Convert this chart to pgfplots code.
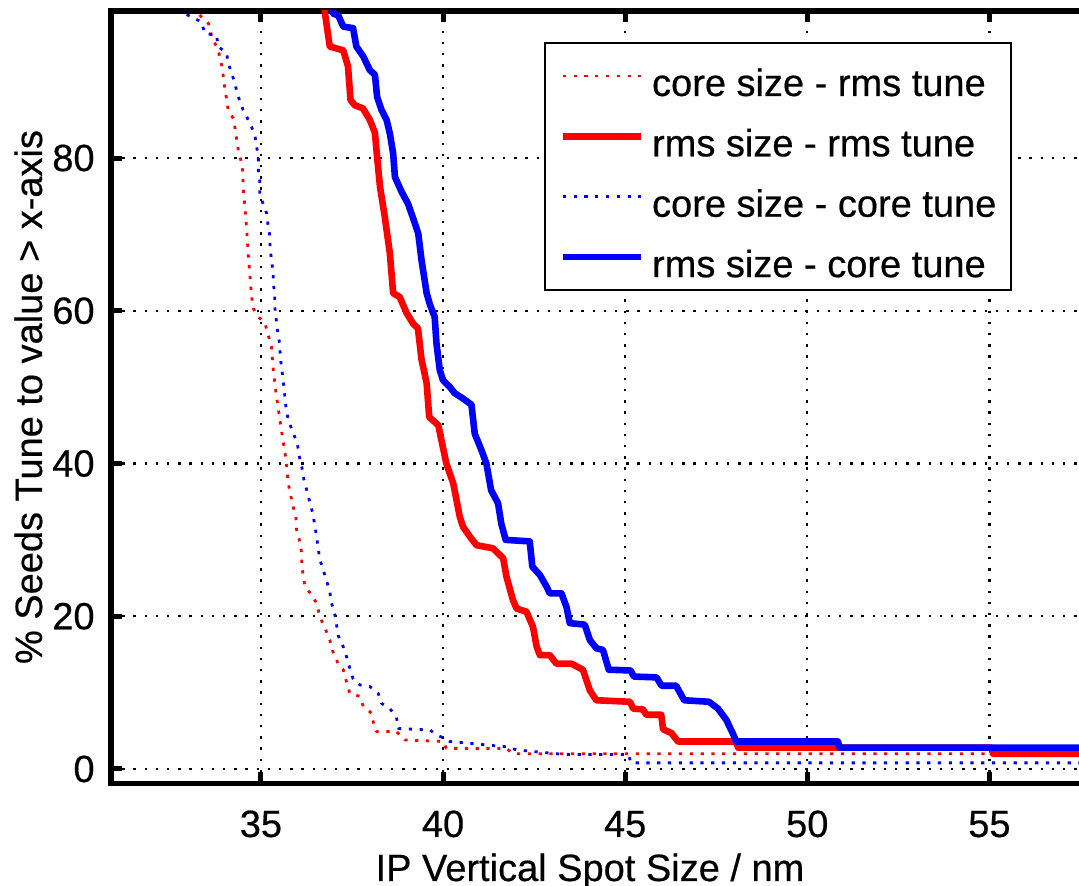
\documentclass[border=0pt]{standalone}
\usepackage{fontspec}
\setmainfont{Liberation Sans}[UprightFeatures={FakeBold=0.5}]
\usepackage{pgfplots}
\pgfplotsset{compat=1.18}
\begin{document}
\begin{tikzpicture}
\begin{axis}[
  at={(0pt,0pt)}, anchor=south west,
  scale only axis,
  width=484pt, height=386.25pt,
  xmin=30.884, xmax=57.46,
  ymin=-1.9, ymax=99.25,
  axis x line*=box, axis y line*=left,
  axis line style={line width=2.8pt, line cap=rect},
  xtick={35,40,45,50,55}, ytick={0,20,40,60,80},
  tick align=inside,
  major tick length=5.5pt,
  every tick/.style={black, line width=2.5pt},
  grid=major,
  major grid style={black, line width=1.1pt, dash pattern=on 1.2pt off 4.4pt},
  font=\fontsize{19}{23}\selectfont,
  /pgf/number format/assume math mode=true,
  ticklabel style={font=\fontsize{19}{23}\selectfont},
  xticklabel style={anchor=base, yshift=-26.75pt},
  yticklabel style={anchor=east, inner xsep=0pt, xshift=-8pt},
  xlabel={IP Vertical Spot Size / nm},
  ylabel={\% Seeds Tune to value > x-axis},
  xlabel style={at={(axis description cs:0.4948,-0.1262)}, anchor=base},
  ylabel style={at={(axis description cs:-0.0713,0.5003)}, anchor=base},
  legend cell align=left,
  legend style={at={(axis description cs:0.4473,0.9603)}, anchor=north west, draw=black, line width=1pt, fill=white, inner xsep=7.25pt, inner ysep=1.54pt, row sep=0pt, column sep=4pt, nodes={inner sep=0pt, text height=25.1pt, text depth=5.1pt}},
  legend image code/.code={\draw[#1] (0pt,0pt) -- (39pt,0pt);},
  every axis plot/.append style={no marks, line join=round},
]
% core size - rms tune
\addplot[red, line width=1.4pt, dash pattern=on 1.6pt off 3.8pt] coordinates {
(33.2,100) (33.28,98.9) (33.56,97.6) (33.65,95.9) (33.83,94.1) (33.92,92.2) (33.97,90.6) (34.01,89.1) (34.06,87.6) (34.10,86.3) (34.24,85.2) (34.29,83.9) (34.33,82.6) (34.38,81.0) (34.45,79.7) (34.51,78.0) (34.51,76.2) (34.56,73.6) (34.61,70.6) (34.65,67.5) (34.70,64.5) (34.74,62.0) (34.79,60.3) (34.93,59.2) (35.11,58.4) (35.2,56.8) (35.29,55.3) (35.34,52.2) (35.41,49.4) (35.5,46.4) (35.59,43.5) (35.69,40.5) (35.75,37.4) (35.87,34.6) (35.96,33.0) (35.98,31.3) (36.07,29.7) (36.12,28.2) (36.12,26.7) (36.16,25.4) (36.21,23.9) (36.39,22.8) (36.53,21.7) (36.62,19.9) (36.76,18.4) (36.89,16.9) (36.98,15.3) (37.12,13.8) (37.26,13.0) (37.35,11.4) (37.44,9.9) (37.72,9.5) (37.81,8.2) (38.04,7.3) (38.08,6.2) (38.17,4.9) (38.72,4.9) (38.95,3.8) (40.0,3.6) (40.09,2.7) (41.74,2.7) (41.92,2.0) (60,2.0)
};
\addlegendentry{core size - rms tune}
% rms size - rms tune
\addplot[red, line width=3.3pt] coordinates {
(36.74,100) (36.76,98.9) (36.89,94.6) (37.26,94.1) (37.39,92.0) (37.46,87.6) (37.58,86.9) (37.80,86.5) (37.99,85.0) (38.13,83.3) (38.19,80.1) (38.27,76.2) (38.40,72.3) (38.54,67.5) (38.63,62.3) (38.81,61.8) (39.0,59.7) (39.18,58.3) (39.31,57.7) (39.41,53.6) (39.55,50.5) (39.62,46.1) (39.87,45.0) (40.09,40.0) (40.28,37.4) (40.46,33.0) (40.55,31.7) (40.74,30.4) (40.92,29.3) (41.37,28.9) (41.65,27.6) (41.74,25.2) (41.92,22.1) (42.02,21.0) (42.29,20.6) (42.47,18.6) (42.57,16.0) (42.66,14.9) (42.93,14.9) (43.11,13.8) (43.52,13.8) (43.84,13.0) (44.03,10.3) (44.21,9.0) (45.13,8.8) (45.22,7.9) (45.49,7.8) (45.58,7.1) (45.99,7.1) (46.04,5.2) (46.27,4.7) (46.45,3.6) (48.05,3.6) (48.1,2.8) (55.05,2.8) (55.1,2.0) (60,2.0)
};
\addlegendentry{rms size - rms tune}
% core size - core tune
\addplot[blue, line width=1.4pt, dash pattern=on 1.6pt off 3.8pt] coordinates {
(32.85,100) (32.91,98.9) (33.37,97.8) (33.46,96.3) (33.78,96.1) (33.83,94.6) (34.06,93.7) (34.10,92.4) (34.20,91.1) (34.29,89.6) (34.38,88.0) (34.51,86.3) (34.61,85.4) (34.74,84.1) (34.84,82.8) (34.88,81.5) (34.93,80.2) (34.93,78.4) (34.97,76.9) (34.97,75.3) (35.06,74.0) (35.16,72.7) (35.20,71.0) (35.25,69.7) (35.25,68.4) (35.29,66.6) (35.34,64.9) (35.34,63.6) (35.38,62.1) (35.38,60.5) (35.45,57.6) (35.50,56.1) (35.55,53.2) (35.63,50.1) (35.69,47.2) (35.75,45.7) (35.87,44.2) (36.0,42.6) (36.05,41.0) (36.12,39.6) (36.18,37.9) (36.27,36.3) (36.34,35.0) (36.43,33.3) (36.53,30.4) (36.57,28.9) (36.62,27.4) (36.80,24.7) (36.89,23.2) (36.94,21.7) (37.03,20.2) (37.07,19.1) (37.12,17.5) (37.26,16.0) (37.35,14.7) (37.44,13.2) (37.53,11.8) (37.72,11.0) (37.99,10.8) (38.22,9.9) (38.31,8.6) (38.54,7.9) (38.72,6.8) (38.77,5.3) (39.64,5.1) (39.82,4.5) (40.19,3.6) (41.74,2.9) (42.02,2.5) (43.11,2.0) (43.3,1.9) (45.1,1.9) (45.15,0.8) (60,0.8)
};
\addlegendentry{core size - core tune}
% rms size - core tune
\addplot[blue, line width=3.3pt] coordinates {
(36.95,100) (36.98,98.9) (37.12,98.7) (37.26,97.2) (37.53,97.0) (37.62,94.6) (37.81,93.3) (37.99,91.5) (38.13,90.9) (38.19,88.0) (38.31,86.3) (38.45,85.0) (38.54,83.2) (38.63,80.6) (38.68,77.5) (38.86,75.6) (39.04,74.0) (39.23,71.4) (39.32,70.1) (39.41,66.6) (39.55,62.3) (39.64,60.8) (39.77,59.2) (39.82,55.7) (39.91,52.2) (40.0,50.9) (40.19,50.0) (40.32,49.2) (40.55,48.5) (40.78,47.7) (40.87,43.9) (41.05,41.8) (41.19,40.0) (41.32,36.5) (41.51,34.8) (41.60,32.1) (41.72,30.0) (42.38,29.8) (42.45,26.5) (42.66,25.4) (42.84,23.9) (42.93,23.0) (43.25,23.0) (43.39,21.2) (43.48,19.1) (43.89,18.9) (44.03,16.9) (44.21,15.8) (44.39,15.6) (44.55,13.0) (45.15,12.9) (45.24,12.1) (45.86,12.0) (46.0,10.9) (46.4,10.9) (46.62,9.0) (47.3,8.8) (47.55,7.9) (47.78,6.4) (47.96,4.6) (48.05,3.6) (50.84,3.6) (50.89,2.8) (60,2.8)
};
\addlegendentry{rms size - core tune}
\end{axis}
\pgfresetboundingbox
\path[use as bounding box] (-55.5pt,-51.25pt) rectangle (484pt,391.75pt);
\end{tikzpicture}
\end{document}
